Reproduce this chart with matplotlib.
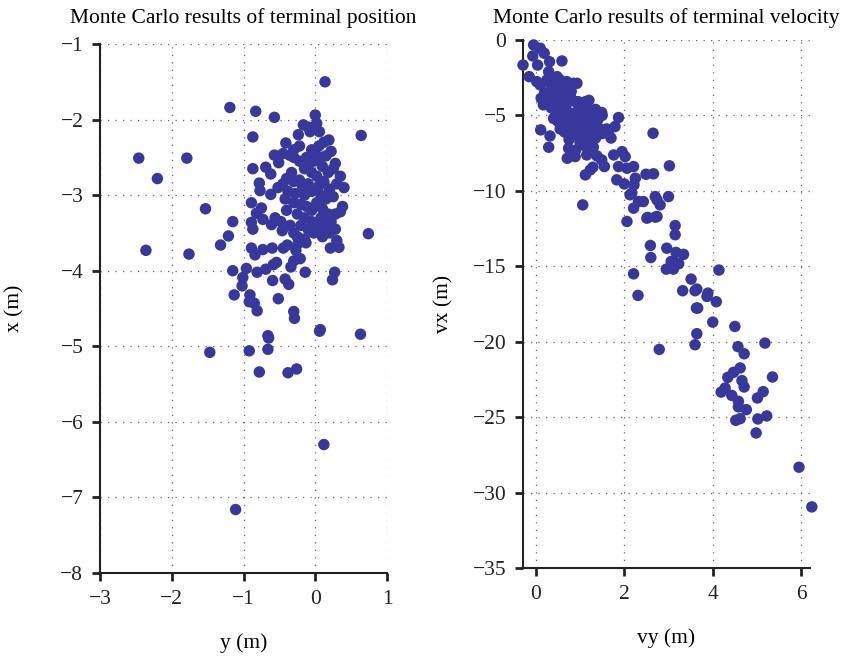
import matplotlib
matplotlib.use("Agg")
import matplotlib.pyplot as plt
import numpy as np

plt.rcParams['font.family'] = ['Liberation Serif', 'DejaVu Serif']
plt.rcParams['axes.unicode_minus'] = True

# ---- Terminal position data (y, x) ----
pos_y = [0.136, -1.19, -0.83, -0.57, 0.0, -0.166, -0.097, 0.02, 0.057, -0.073, -0.236,
         0.19, 0.64, -0.87, -0.41, -2.46, -1.79, -2.20, -0.57, -0.51, -0.87, -0.69, -0.62,
         -0.78, -0.77, -0.62, -0.89, -1.53, -0.75, -0.82, -0.73, -1.15, -0.89, -0.87,
         -0.56, -0.61, -0.46, -1.21, -1.32, 0.74, -2.36, -1.76, -0.89, -0.84, -0.73, -0.60,
         -0.445, -0.39, -0.27, -0.24, -0.13, 0.21, 0.33, -0.21, -0.30, -0.34, -0.54, -0.585,
         -0.69, -0.81, -0.96, -1.15, -1.01, -1.02, -0.595, -0.42, -0.37, -0.14, 0.27, 0.24,
         -1.13, -0.91, -0.92, -0.85, -0.81, -0.515, -0.30, -0.29, 0.07, 0.06, 0.63, -0.66,
         -0.65, -0.66, -0.92, -1.47, -0.78, -0.38, -0.26, 0.12, -1.11,
         -0.45, -0.36, -0.30, -0.22, -0.05, 0.0, 0.08, 0.15, 0.28, 0.05, -0.10, -0.15, 0.10,
         0.18, 0.25, -0.05, 0.02, 0.30, -0.33, -0.40, -0.30, -0.22, -0.18, -0.10, 0.05, 0.12,
         0.20, -0.45, -0.52, -0.38, -0.28, -0.15, -0.05, 0.08, 0.15, 0.25, 0.38, 0.35, 0.28,
         -0.42, -0.30, -0.20, -0.12, -0.05, 0.02, 0.10, 0.18, -0.25, -0.15, -0.05, -0.20,
         -0.10, 0.00, 0.08, 0.15, 0.22, 0.05, -0.02, -0.30, -0.40, -0.48, -0.22, -0.30, 0.12,
         0.22, -0.12, 0.35, 0.40, -0.02, -0.25, -0.15, 0.10, 0.20, 0.30, -0.35, 0.28]
pos_x = [-1.50, -1.84, -1.89, -1.97, -1.94, -2.07, -2.10, -2.05, -2.16, -2.16, -2.20,
         -2.27, -2.21, -2.23, -2.31, -2.51, -2.51, -2.78, -2.47, -2.57, -2.65, -2.63, -2.72,
         -2.84, -2.94, -2.99, -3.10, -3.18, -3.17, -3.24, -3.32, -3.35, -3.36, -3.45,
         -3.30, -3.39, -3.47, -3.54, -3.66, -3.51, -3.73, -3.78, -3.70, -3.79, -3.72, -3.70,
         -3.70, -3.66, -3.73, -3.64, -3.63, -3.70, -3.69, -3.84, -3.87, -3.95, -3.89, -3.92,
         -3.98, -4.02, -3.97, -4.00, -4.09, -4.20, -4.13, -4.11, -4.18, -4.02, -4.02, -4.12,
         -4.32, -4.32, -4.41, -4.43, -4.53, -4.37, -4.54, -4.63, -4.78, -4.80, -4.84, -4.86,
         -4.89, -5.04, -5.06, -5.08, -5.34, -5.35, -5.30, -6.30, -7.16,
         -2.45, -2.47, -2.50, -2.55, -2.40, -2.45, -2.50, -2.48, -2.58, -2.35, -2.60, -2.65,
         -2.62, -2.70, -2.65, -2.70, -2.75, -2.85, -2.70, -2.78, -2.82, -2.80, -2.88, -2.85,
         -2.88, -2.82, -2.92, -2.85, -2.90, -2.95, -2.98, -3.00, -2.95, -3.00, -3.05, -3.02,
         -3.15, -3.22, -3.25, -3.05, -3.10, -3.12, -3.15, -3.20, -3.10, -3.18, -3.25, -3.25,
         -3.30, -3.35, -3.40, -3.45, -3.38, -3.30, -3.40, -3.35, -3.45, -3.50, -3.50, -3.20,
         -3.35, -2.35, -2.40, -2.30, -2.42, -2.50, -2.75, -2.90, -2.55, -3.55, -3.58, -3.55,
         -3.50, -3.60, -3.40, -3.45]

# ---- Terminal velocity data (vy, vx) ----
vel_vy = [-0.05, 0.10, 0.19, -0.29, -0.07, 0.04, 0.31, 0.59, -0.15, 0.02, 0.10,
          0.29, 0.32, 0.25, 0.48, 0.55, 0.70, 0.85, 0.74, 0.93, 0.12, 0.17, 0.36, 0.48,
          0.59, 0.70, 0.78, 0.96, 1.12, 1.19, 1.49, 1.87, 1.79, 1.64, 2.65, 0.11, 0.32,
          0.29, 0.74, 0.71, 0.89, 1.15, 1.38, 1.49, 1.55, 1.29, 1.23, 1.12, 1.76, 1.95,
          2.02, 1.87, 2.06, 2.21, 1.83, 2.00, 2.25, 2.22, 2.17, 2.13, 2.49, 2.66, 3.02,
          2.70, 2.74, 2.81, 3.00, 1.06, 2.32, 2.43, 2.21, 2.06, 2.51, 2.70, 3.15,
          2.53, 2.74, 3.15, 2.59, 2.60, 2.96, 3.17, 3.34, 3.06, 3.15, 2.95, 3.11, 3.23,
          4.14, 2.21, 2.31, 3.51, 3.32, 3.60, 3.64, 3.87, 3.89, 4.08, 3.63, 3.66, 4.00,
          4.50, 3.64, 3.60, 2.79, 4.57, 4.71, 5.18, 4.62, 4.47, 4.34, 5.35, 4.66, 4.71,
          4.28, 4.19, 4.43, 4.58, 4.58, 4.76, 5.14, 5.01, 4.62, 4.52, 5.02, 5.22, 4.98,
          5.95, 6.24,
          0.35, 0.45, 0.55, 0.40, 0.30, 0.50, 0.60, 0.70, 0.80, 0.90, 1.00, 1.10, 0.35,
          0.45, 0.55, 0.65, 0.75, 0.85, 0.95, 1.05, 1.15, 1.25, 0.40, 0.50, 0.60, 0.70,
          0.80, 0.90, 1.00, 1.10, 1.20, 1.30, 1.40, 1.45, 0.55, 0.65, 0.75, 0.85, 0.95,
          1.05, 1.15, 1.25, 1.35, 1.50, 1.60, 1.00, 1.10, 1.20, 0.75, 0.90, 1.30, 0.25,
          0.20, 0.60, 0.80, 1.20, 1.35, 1.50, 1.30, 0.50, 1.70]
vel_vx = [-0.33, -0.55, -0.88, -1.66, -1.06, -1.66, -1.44, -1.39, -2.43, -2.76, -2.98,
          -2.10, -2.43, -2.65, -2.43, -2.65, -2.76, -2.87, -3.09, -2.87, -3.86, -4.30, -3.53,
          -3.42, -3.64, -3.42, -3.75, -4.09, -4.09, -4.64, -4.81, -5.14, -5.74, -6.18, -6.18,
          -5.96, -6.36, -7.11, -7.18, -7.84, -7.73, -7.62, -7.68, -7.95, -8.39, -8.43, -8.61,
          -8.94, -7.62, -7.40, -7.73, -8.39, -8.50, -8.39, -9.27, -9.54, -9.16, -9.60,
          -10.15, -10.26, -8.90, -8.87, -8.34, -10.38, -10.60, -10.93, -10.38, -10.93,
          -10.71, -10.71, -11.15, -12.03, -11.81, -11.74, -12.30,
          -11.76, -11.70, -12.91, -13.62, -14.42, -13.80, -14.08, -14.21, -14.68, -14.79,
          -15.19, -15.19, -14.83, -15.25, -15.50, -16.93, -15.85, -16.62, -16.62, -16.51,
          -17.00, -16.78, -17.35, -17.77, -17.77, -18.70, -18.99, -19.47, -20.20, -20.51,
          -20.33, -20.80, -20.09, -21.74, -22.03, -22.36, -22.34, -22.58, -23.00, -23.07,
          -23.34, -23.56, -23.95, -24.32, -24.50, -23.31, -23.73, -25.10, -25.21, -25.12,
          -24.92, -26.05, -28.32, -30.95,
          -3.0, -3.2, -3.3, -3.6, -3.9, -4.0, -3.8, -4.2, -3.9, -4.1, -4.4, -4.3, -4.5,
          -4.7, -4.9, -4.6, -4.8, -5.0, -4.7, -4.9, -5.1, -4.8, -5.2, -5.4, -5.3, -5.6,
          -5.4, -5.7, -5.5, -5.8, -5.5, -5.7, -5.3, -5.9, -5.9, -6.1, -6.0, -6.3, -6.2,
          -6.4, -6.1, -6.3, -6.5, -6.2, -5.9, -6.8, -7.0, -6.9, -6.6, -7.3, -7.1, -4.2,
          -3.5, -2.9, -3.4, -4.0, -4.6, -5.0, -5.2, -4.3, -6.5]

pos_xticks = [-3, -2, -1, 0, 1]
pos_yticks = [-8, -7, -6, -5, -4, -3, -2, -1]
vel_xticks = [0, 2, 4, 6]
vel_yticks = [-35, -30, -25, -20, -15, -10, -5, 0]

dot_color = '#38389c'

fig = plt.figure(figsize=(8.41, 6.59), dpi=100)
ax1 = fig.add_axes([0.1189, 0.1305, 0.3413, 0.8027])
ax2 = fig.add_axes([0.6219, 0.1381, 0.3413, 0.8012])

def style(ax):
    for s in ['top', 'right']:
        ax.spines[s].set_visible(False)
    for s in ['left', 'bottom']:
        ax.spines[s].set_linewidth(1.5)
        ax.spines[s].set_color('#222222')
    ax.tick_params(direction='out', length=6, width=2, labelsize=15.5, colors='#222222', pad=6)
    ax.grid(True, linestyle=(0, (1, 5)), color='#666666', linewidth=0.9)
    ax.set_axisbelow(True)

ax1.scatter(pos_y, pos_x, s=68, color=dot_color, edgecolors='none', zorder=3, clip_on=False)
ax1.set_xlim(-3, 1)
ax1.set_ylim(-8, -1)
ax1.set_xticks(pos_xticks)
ax1.set_yticks(pos_yticks)
style(ax1)
ax1.set_title('Monte Carlo results of terminal position', fontsize=15.5, pad=15)
ax1.set_xlabel('y (m)', fontsize=15.5, labelpad=18)
ax1.set_ylabel('x (m)', fontsize=15.5, labelpad=26)

ax2.scatter(vel_vy, vel_vx, s=68, color=dot_color, edgecolors='none', zorder=3, clip_on=False)
ax2.set_xlim(-0.29, 6.2)
ax2.set_ylim(-35, 0)
ax2.set_xticks(vel_xticks)
ax2.set_yticks(vel_yticks)
style(ax2)
ax2.set_title('Monte Carlo results of terminal velocity', fontsize=15.5, pad=12)
ax2.set_xlabel('vy (m)', fontsize=15.5, labelpad=18)
ax2.set_ylabel('vx (m)', fontsize=15.5, labelpad=14)

fig.savefig('out.png', dpi=100)
